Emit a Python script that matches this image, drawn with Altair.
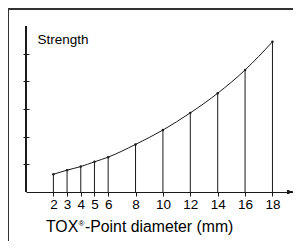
import altair as alt
import pandas as pd

diameters = [2, 3, 4, 5, 6, 8, 10, 12, 14, 16, 18]
strength = [0.64, 0.79, 0.92, 1.09, 1.26, 1.72, 2.24, 2.86, 3.57, 4.41, 5.43]
x_ticks = [2, 3, 4, 5, 6, 8, 10, 12, 14, 16, 18]
y_ticks = [1, 2, 3, 4, 5]
title_parts = ["TOX", "®", "-Point diameter (mm)"]

df = pd.DataFrame({"d": diameters, "s": strength})

FONT = "Liberation Sans"
INK = "#1a1a1a"
XMAX = 19.5

xscale = alt.Scale(domain=[0, XMAX], nice=False, zero=False)
yscale = alt.Scale(domain=[0, 6], nice=False)

xaxis = alt.Axis(values=x_ticks, grid=False, domain=True, domainColor=INK,
                 tickColor=INK, tickSize=4, labelFontSize=13.5, labelFont=FONT,
                 labelColor="#000", labelBaseline="alphabetic", labelPadding=12.6,
                 labelFlush=False, labelOverlap=False, title=None)
yaxis = alt.Axis(values=y_ticks, labels=False, grid=False, domain=False,
                 tickColor=INK, tickSize=6, offset=-3,
                 title="Strength", titleFont=FONT, titleFontSize=13.5,
                 titleFontWeight="normal", titleColor="#000", titleAngle=0,
                 titleX=8, titleY=17, titleAlign="left", titleBaseline="alphabetic")

base = alt.Chart(df)

stems = base.mark_rule(color=INK, strokeWidth=1).encode(
    x=alt.X("d:Q", scale=xscale, axis=xaxis),
    y=alt.Y("s:Q", scale=yscale, axis=yaxis),
    y2=alt.Y2(datum=0),
)

curve = base.mark_line(color=INK, strokeWidth=1, interpolate="monotone").encode(
    x=alt.X("d:Q", scale=xscale, axis=xaxis),
    y=alt.Y("s:Q", scale=yscale, axis=yaxis),
)

dots = base.mark_point(color=INK, filled=True, size=6, opacity=1).encode(
    x=alt.X("d:Q", scale=xscale, axis=xaxis),
    y=alt.Y("s:Q", scale=yscale, axis=yaxis),
)

yaxis_line = base.mark_rule(color=INK, strokeWidth=1).encode(
    x=alt.X(datum=0, scale=xscale, axis=xaxis),
    y=alt.Y(datum=0, scale=yscale, axis=yaxis),
    y2=alt.Y2(datum=6),
)

arrow_x = base.mark_point(color=INK, filled=True, opacity=1, size=144,
                          shape="M-1,-0.3L0,0L-1,0.3Z").encode(
    x=alt.X(datum=XMAX, scale=xscale, axis=xaxis),
    y=alt.Y(datum=0, scale=yscale, axis=yaxis),
)

arrow_y = base.mark_point(color=INK, filled=True, opacity=1, size=169,
                          shape="M-0.14,1L0,0L0.14,1Z").encode(
    x=alt.X(datum=0, scale=xscale, axis=xaxis),
    y=alt.Y(datum=6, scale=yscale, axis=yaxis),
)

t1 = alt.Chart().mark_text(font=FONT, fontSize=15.8, color="#000", align="left",
                           baseline="alphabetic", text=title_parts[0]).encode(
    x=alt.value(20), y=alt.value(206))
t2 = alt.Chart().mark_text(font=FONT, fontSize=8, color="#000", align="left",
                           baseline="alphabetic", text=title_parts[1]).encode(
    x=alt.value(52.5), y=alt.value(200))
t3 = alt.Chart().mark_text(font=FONT, fontSize=15.8, color="#000", align="left",
                           baseline="alphabetic", text=title_parts[2]).encode(
    x=alt.value(59), y=alt.value(206))

frame_top = base.mark_rule(color="#333", strokeWidth=1).encode(
    x=alt.value(-17.5), x2=alt.value(267), y=alt.value(-17)
)
frame_left = base.mark_rule(color="#333", strokeWidth=1).encode(
    x=alt.value(-17.5), y=alt.value(-17), y2=alt.value(216)
)

chart = alt.layer(stems, curve, dots, yaxis_line, arrow_x, arrow_y,
                  t1, t2, t3, frame_top, frame_left).properties(
    width=267, height=166,
    padding={"left": 18, "top": 18, "right": 0, "bottom": 49},
    autosize=alt.AutoSizeParams(type="none"),
    background="white",
).configure_view(stroke=None)

chart.save("out.html", embed_options={"renderer": "svg", "actions": False})
